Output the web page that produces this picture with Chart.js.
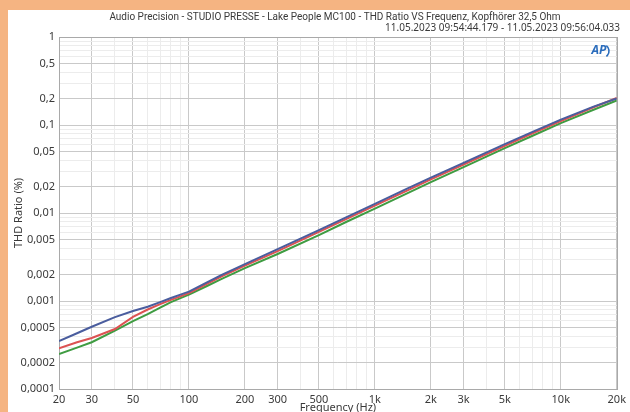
<!DOCTYPE html>
<html>
<head>
<meta charset="utf-8">
<title>THD Ratio VS Frequenz</title>
<script src="https://cdn.jsdelivr.net/npm/chart.js@4.4.1/dist/chart.umd.min.js"></script>
<style>
    html, body { margin: 0; padding: 0; background: #f5b482; }
    #frame { position: absolute; left: 0; top: 0; width: 630px; height: 412px; overflow: hidden; background: #f5b482; }
    #sheet { position: absolute; left: 8px; top: 10px; width: 622px; height: 408px; background: #ffffff; }
    canvas { display: block; }
</style>
</head>
<body>
<div id="frame">
    <div id="sheet">
        <canvas id="thdChart" width="622" height="408"></canvas>
    </div>
</div>
<script>
const freqs = [20, 25, 30, 40, 50, 60, 70, 80, 90, 100, 125, 150, 200, 300, 500, 700,
               1000, 1500, 2000, 3000, 5000, 7000, 10000, 15000, 20000];

const thdBlue = [0.00035, 0.00043, 0.00051, 0.000655, 0.00077, 0.00086, 0.00097, 0.00108, 0.00118, 0.00128,
                 0.00163, 0.00198, 0.00262, 0.00388, 0.0064, 0.0089,
                 0.0127, 0.0190, 0.0252, 0.0372, 0.0605, 0.0830, 0.115, 0.162, 0.200];

const thdRed = [0.00029, 0.00034, 0.00038, 0.00048, 0.00066, 0.00080, 0.00092, 0.00103, 0.00113, 0.00123,
                0.00157, 0.00191, 0.00252, 0.00368, 0.0061, 0.0085,
                0.0121, 0.0181, 0.0241, 0.0356, 0.0580, 0.0800, 0.111, 0.159, 0.203];

const thdGreen = [0.00025, 0.000295, 0.00034, 0.00046, 0.00059, 0.00071, 0.00084, 0.00097, 0.00108, 0.00118,
                  0.00148, 0.00178, 0.00236, 0.00342, 0.0056, 0.0079,
                  0.0112, 0.0168, 0.0224, 0.0332, 0.0545, 0.0750, 0.105, 0.149, 0.190];

// Axis labels
const xTickValues = [20, 30, 50, 100, 200, 300, 500, 1000, 2000, 3000, 5000, 10000, 20000];
const xTickLabels = ['20', '30', '50', '100', '200', '300', '500', '1k', '2k', '3k', '5k', '10k', '20k'];
const yTickValues = [1, 0.5, 0.2, 0.1, 0.05, 0.02, 0.01, 0.005, 0.002, 0.001, 0.0005, 0.0002, 0.0001];
const yTickLabels = ['1', '0,5', '0,2', '0,1', '0,05', '0,02', '0,01', '0,005', '0,002', '0,001', '0,0005', '0,0002', '0,0001'];

const titleLine = 'Audio Precision - STUDIO PRESSE - Lake People MC100 - THD Ratio VS Frequenz, Kopfhörer 32,5 Ohm';
const dateLine = '11.05.2023 09:54:44.179 - 11.05.2023 09:56:04.033';

const FONT = '"Noto Sans", "Open Sans", sans-serif';
const TEXT = '#3a3a3a';

// every 1..9 multiple of each decade, so minor grid lines exist too
function decadeTicks(min, max) {
    const out = [];
    for (let e = Math.floor(Math.log10(min)); e <= Math.ceil(Math.log10(max)); e++) {
        for (let m = 1; m < 10; m++) {
            const v = Number((m * Math.pow(10, e)).toPrecision(3));
            if (v >= min * 0.999 && v <= max * 1.001) out.push({ value: v });
        }
    }
    return out;
}

function findIndex(list, v) {
    return list.findIndex(t => Math.abs(t - v) / t < 1e-6);
}

function gridColor(list) {
    return ctx => (ctx.tick && findIndex(list, ctx.tick.value) >= 0) ? '#c9c9c9' : '#ececec';
}

function toPoints(ys) {
    return freqs.map((f, i) => ({ x: f, y: ys[i] }));
}

// plot frame + header text + AP logo
const decorations = {
    id: 'decorations',
    beforeDatasetsDraw(chart) {
        const { ctx, chartArea: a } = chart;
        ctx.save();
        ctx.strokeStyle = '#a9a9a9';
        ctx.lineWidth = 1;
        ctx.strokeRect(Math.round(a.left) + 0.5, Math.round(a.top) + 0.5,
                       Math.round(a.right - a.left), Math.round(a.bottom - a.top));
        ctx.restore();
    },
    afterDraw(chart) {
        const { ctx } = chart;
        ctx.save();
        ctx.fillStyle = TEXT;
        ctx.textBaseline = 'middle';
        ctx.font = '10px Roboto, ' + FONT;
        ctx.textAlign = 'center';
        ctx.fillText(titleLine, 327, 7);
        ctx.font = '10px ' + FONT;
        ctx.textAlign = 'right';
        ctx.fillText(dateLine, 612, 18);

        // AP logo
        ctx.fillStyle = '#2a6cbc';
        ctx.strokeStyle = '#2a6cbc';
        ctx.font = 'italic bold 12px ' + FONT;
        ctx.textAlign = 'center';
        ctx.fillText('AP', 591, 41);
        ctx.lineWidth = 1.6;
        ctx.beginPath();
        ctx.arc(594, 41, 7, -0.9, 0.9);
        ctx.stroke();
        ctx.restore();
    }
};

new Chart(document.getElementById('thdChart'), {
    type: 'line',
    data: {
        datasets: [
            { label: 'Ch1', data: toPoints(thdBlue), borderColor: '#4a5d9e' },
            { label: 'Ch2', data: toPoints(thdRed), borderColor: '#dc5252' },
            { label: 'Ch3', data: toPoints(thdGreen), borderColor: '#3f9c42' }
        ]
    },
    options: {
        responsive: false,
        animation: false,
        layout: { padding: { left: 0, right: 11, top: 27, bottom: 0 } },
        elements: {
            line: { borderWidth: 2, tension: 0, fill: false },
            point: { radius: 0 }
        },
        plugins: {
            legend: { display: false },
            tooltip: { enabled: false }
        },
        scales: {
            x: {
                type: 'logarithmic',
                min: 20,
                max: 20000,
                afterBuildTicks: scale => { scale.ticks = decadeTicks(20, 20000); },
                afterFit: scale => { scale.height = 29; },
                border: { display: false },
                grid: { color: gridColor(xTickValues), drawTicks: false, lineWidth: 1 },
                ticks: {
                    autoSkip: false,
                    maxRotation: 0,
                    padding: 4,
                    color: TEXT,
                    font: { family: FONT, size: 11 },
                    callback: value => {
                        const i = findIndex(xTickValues, value);
                        return i >= 0 ? xTickLabels[i] : '';
                    }
                },
                title: {
                    display: true,
                    text: 'Frequency (Hz)',
                    color: TEXT,
                    font: { family: FONT, size: 11 }
                }
            },
            y: {
                type: 'logarithmic',
                min: 0.0001,
                max: 1,
                afterBuildTicks: scale => { scale.ticks = decadeTicks(0.0001, 1); },
                afterFit: scale => { scale.width = 51; },
                border: { display: false },
                grid: { color: gridColor(yTickValues), drawTicks: false, lineWidth: 1 },
                ticks: {
                    autoSkip: false,
                    padding: 4,
                    color: TEXT,
                    font: { family: FONT, size: 11 },
                    callback: value => {
                        const i = findIndex(yTickValues, value);
                        return i >= 0 ? yTickLabels[i] : '';
                    }
                },
                title: {
                    display: true,
                    text: 'THD Ratio (%)',
                    color: TEXT,
                    font: { family: FONT, size: 11 }
                }
            }
        }
    },
    plugins: [decorations]
});
</script>
</body>
</html>
